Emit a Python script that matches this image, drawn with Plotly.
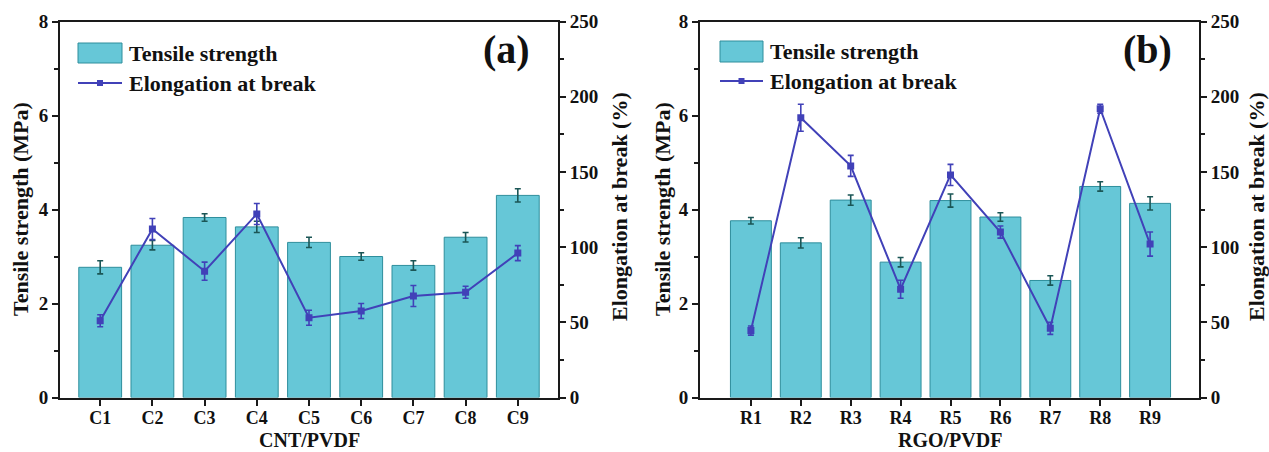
import plotly.graph_objects as go

# ---------------- data ----------------
cnt_labels = ["C1", "C2", "C3", "C4", "C5", "C6", "C7", "C8", "C9"]
cnt_strength = [2.77, 3.24, 3.83, 3.63, 3.30, 3.00, 2.81, 3.41, 4.30]
cnt_strength_err = [0.14, 0.10, 0.08, 0.12, 0.11, 0.08, 0.10, 0.10, 0.14]
cnt_elong = [51, 112, 84, 122, 53, 57.5, 67.5, 70, 96]
cnt_elong_err = [4, 7, 6, 7, 5, 5, 7, 4, 5]

rgo_labels = ["R1", "R2", "R3", "R4", "R5", "R6", "R7", "R8", "R9"]
rgo_strength = [3.76, 3.29, 4.20, 2.88, 4.19, 3.84, 2.49, 4.49, 4.13]
rgo_strength_err = [0.07, 0.11, 0.11, 0.10, 0.14, 0.09, 0.10, 0.10, 0.14]
rgo_elong = [44.5, 186, 154, 72, 148, 110, 46, 192, 102]
rgo_elong_err = [3, 9, 7, 6, 7, 4, 4, 3, 8]

strength_ticks = [0, 2, 4, 6, 8]
elong_ticks = [0, 50, 100, 150, 200, 250]

# ---------------- style ----------------
W, H = 1269, 452
FONT = "Liberation Serif"
BAR_FILL = "#66c7d7"
BAR_LINE = "#2e8e9c"
BAR_ERR = "#1b5656"
LINE_C = "#4141b8"
AX_C = "#1a1a1a"


def px(x):
    return x / W


def py(y):
    return (H - y) / H


fig = go.Figure()

panels = [
    dict(labels=cnt_labels, s=cnt_strength, se=cnt_strength_err, e=cnt_elong, ee=cnt_elong_err,
         xa="x", ya="y", ya2="y2"),
    dict(labels=rgo_labels, s=rgo_strength, se=rgo_strength_err, e=rgo_elong, ee=rgo_elong_err,
         xa="x2", ya="y3", ya2="y4"),
]

for p in panels:
    fig.add_trace(go.Bar(
        x=p["labels"], y=p["s"], xaxis=p["xa"], yaxis=p["ya"],
        width=0.82, marker=dict(color=BAR_FILL, line=dict(color=BAR_LINE, width=1)),
        error_y=dict(type="data", array=p["se"], color=BAR_ERR, thickness=1.6, width=3),
        name="Tensile strength", showlegend=False,
    ))
    fig.add_trace(go.Scatter(
        x=p["labels"], y=p["e"], xaxis=p["xa"], yaxis=p["ya2"],
        mode="lines+markers",
        line=dict(color=LINE_C, width=2),
        marker=dict(symbol="square", size=7, color=LINE_C),
        error_y=dict(type="data", array=p["ee"], color=LINE_C, thickness=1.6, width=3),
        name="Elongation at break", showlegend=False,
    ))

tickfont = dict(family=FONT, size=19, color="#111", weight="bold")
xtickfont = dict(family=FONT, size=18, color="#111", weight="bold")
ydom = [py(397.5), py(21.5)]


def xaxis_cfg(dom, rng):
    return dict(domain=dom, range=rng, type="category", showgrid=False, zeroline=False,
                showline=True, linecolor=AX_C, linewidth=2, mirror=True, automargin=False,
                ticks="outside", ticklen=6, tickwidth=2, tickcolor=AX_C,
                tickfont=xtickfont, ticklabelstandoff=-3)


def y_left(anchor):
    return dict(domain=ydom, range=[0, 8], anchor=anchor, tickvals=strength_ticks,
                automargin=False,
                showgrid=False, zeroline=False, showline=True, linecolor=AX_C, linewidth=2,
                ticks="outside", ticklen=6, tickwidth=2, tickcolor=AX_C, tickfont=tickfont,
                minor=dict(dtick=1, ticks="outside", ticklen=4, tickwidth=1.5, tickcolor=AX_C))


def y_right(anchor, over):
    return dict(range=[0, 250], anchor=anchor, overlaying=over, side="right",
                tickvals=elong_ticks, automargin=False,
                showgrid=False, zeroline=False, showline=True, linecolor=AX_C, linewidth=2,
                ticks="outside", ticklen=6, tickwidth=2, tickcolor=AX_C, tickfont=tickfont,
                minor=dict(dtick=25, ticks="outside", ticklen=4, tickwidth=1.5, tickcolor=AX_C))


fig.update_layout(
    width=W, height=H,
    margin=dict(l=0, r=0, t=0, b=0, pad=0),
    paper_bgcolor="white", plot_bgcolor="white",
    bargap=0.18,
    xaxis=xaxis_cfg([px(60), px(558)], [-0.77, 8.77]) | dict(anchor="y"),
    xaxis2=xaxis_cfg([px(700), px(1199)], [-1.02, 8.98]) | dict(anchor="y3"),
    yaxis=y_left("x"),
    yaxis2=y_right("x", "y"),
    yaxis3=y_left("x2"),
    yaxis4=y_right("x2", "y3"),
)

ann = []
titlefont = dict(family=FONT, size=20, color="#111", weight="bold")
ytitlefont = dict(family=FONT, size=22, color="#111", weight="bold")
legfont = dict(family=FONT, size=22, color="#111", weight="bold")
panelfont = dict(family=FONT, size=40, color="#111", weight="bold")

# axis titles and panel letters
for (x0, x1, xt, ltx, rtx, tag, tx) in [
    (60, 558, "CNT/PVDF", 20, 619, "(a)", 506),
    (700, 1199, "RGO/PVDF", 662, 1256, "(b)", 1147),
]:
    ann.append(dict(x=px((x0 + x1) / 2), y=py(440), xref="paper", yref="paper",
                    text=xt, showarrow=False, font=titlefont, xanchor="center", yanchor="middle"))
    ann.append(dict(x=px(ltx), y=py(209), xref="paper", yref="paper", textangle=-90,
                    text="Tensile strength (MPa)", showarrow=False, font=ytitlefont,
                    xanchor="center", yanchor="middle"))
    ann.append(dict(x=px(rtx), y=py(207), xref="paper", yref="paper", textangle=-90,
                    text="Elongation at break (%)", showarrow=False, font=ytitlefont,
                    xanchor="center", yanchor="middle"))
    ann.append(dict(x=px(tx), y=py(50), xref="paper", yref="paper",
                    text=tag, showarrow=False, font=panelfont, xanchor="center", yanchor="middle"))

# manual legends (wide swatches as in reference)
shapes = []
for (sx0, sx1, sy0, sy1, ly, tx) in [(78, 122, 43, 63, 83, 127), (720, 763, 41, 62, 81, 768)]:
    shapes.append(dict(type="rect", xref="paper", yref="paper", x0=px(sx0), x1=px(sx1),
                       y0=py(sy1), y1=py(sy0), fillcolor=BAR_FILL,
                       line=dict(color=BAR_LINE, width=1)))
    shapes.append(dict(type="line", xref="paper", yref="paper", x0=px(sx0), x1=px(sx1),
                       y0=py(ly), y1=py(ly), line=dict(color=LINE_C, width=2)))
    cx = (sx0 + sx1) / 2
    shapes.append(dict(type="rect", xref="paper", yref="paper", x0=px(cx - 3), x1=px(cx + 3),
                       y0=py(ly + 3), y1=py(ly - 3), fillcolor=LINE_C, line=dict(width=0)))
    ann.append(dict(x=px(tx), y=py((sy0 + sy1) / 2), xref="paper", yref="paper",
                    text="Tensile strength", showarrow=False, font=legfont,
                    xanchor="left", yanchor="middle"))
    ann.append(dict(x=px(tx), y=py(ly), xref="paper", yref="paper",
                    text="Elongation at break", showarrow=False, font=legfont,
                    xanchor="left", yanchor="middle"))

fig.update_layout(annotations=ann, shapes=shapes)

fig.write_html("out.html")
